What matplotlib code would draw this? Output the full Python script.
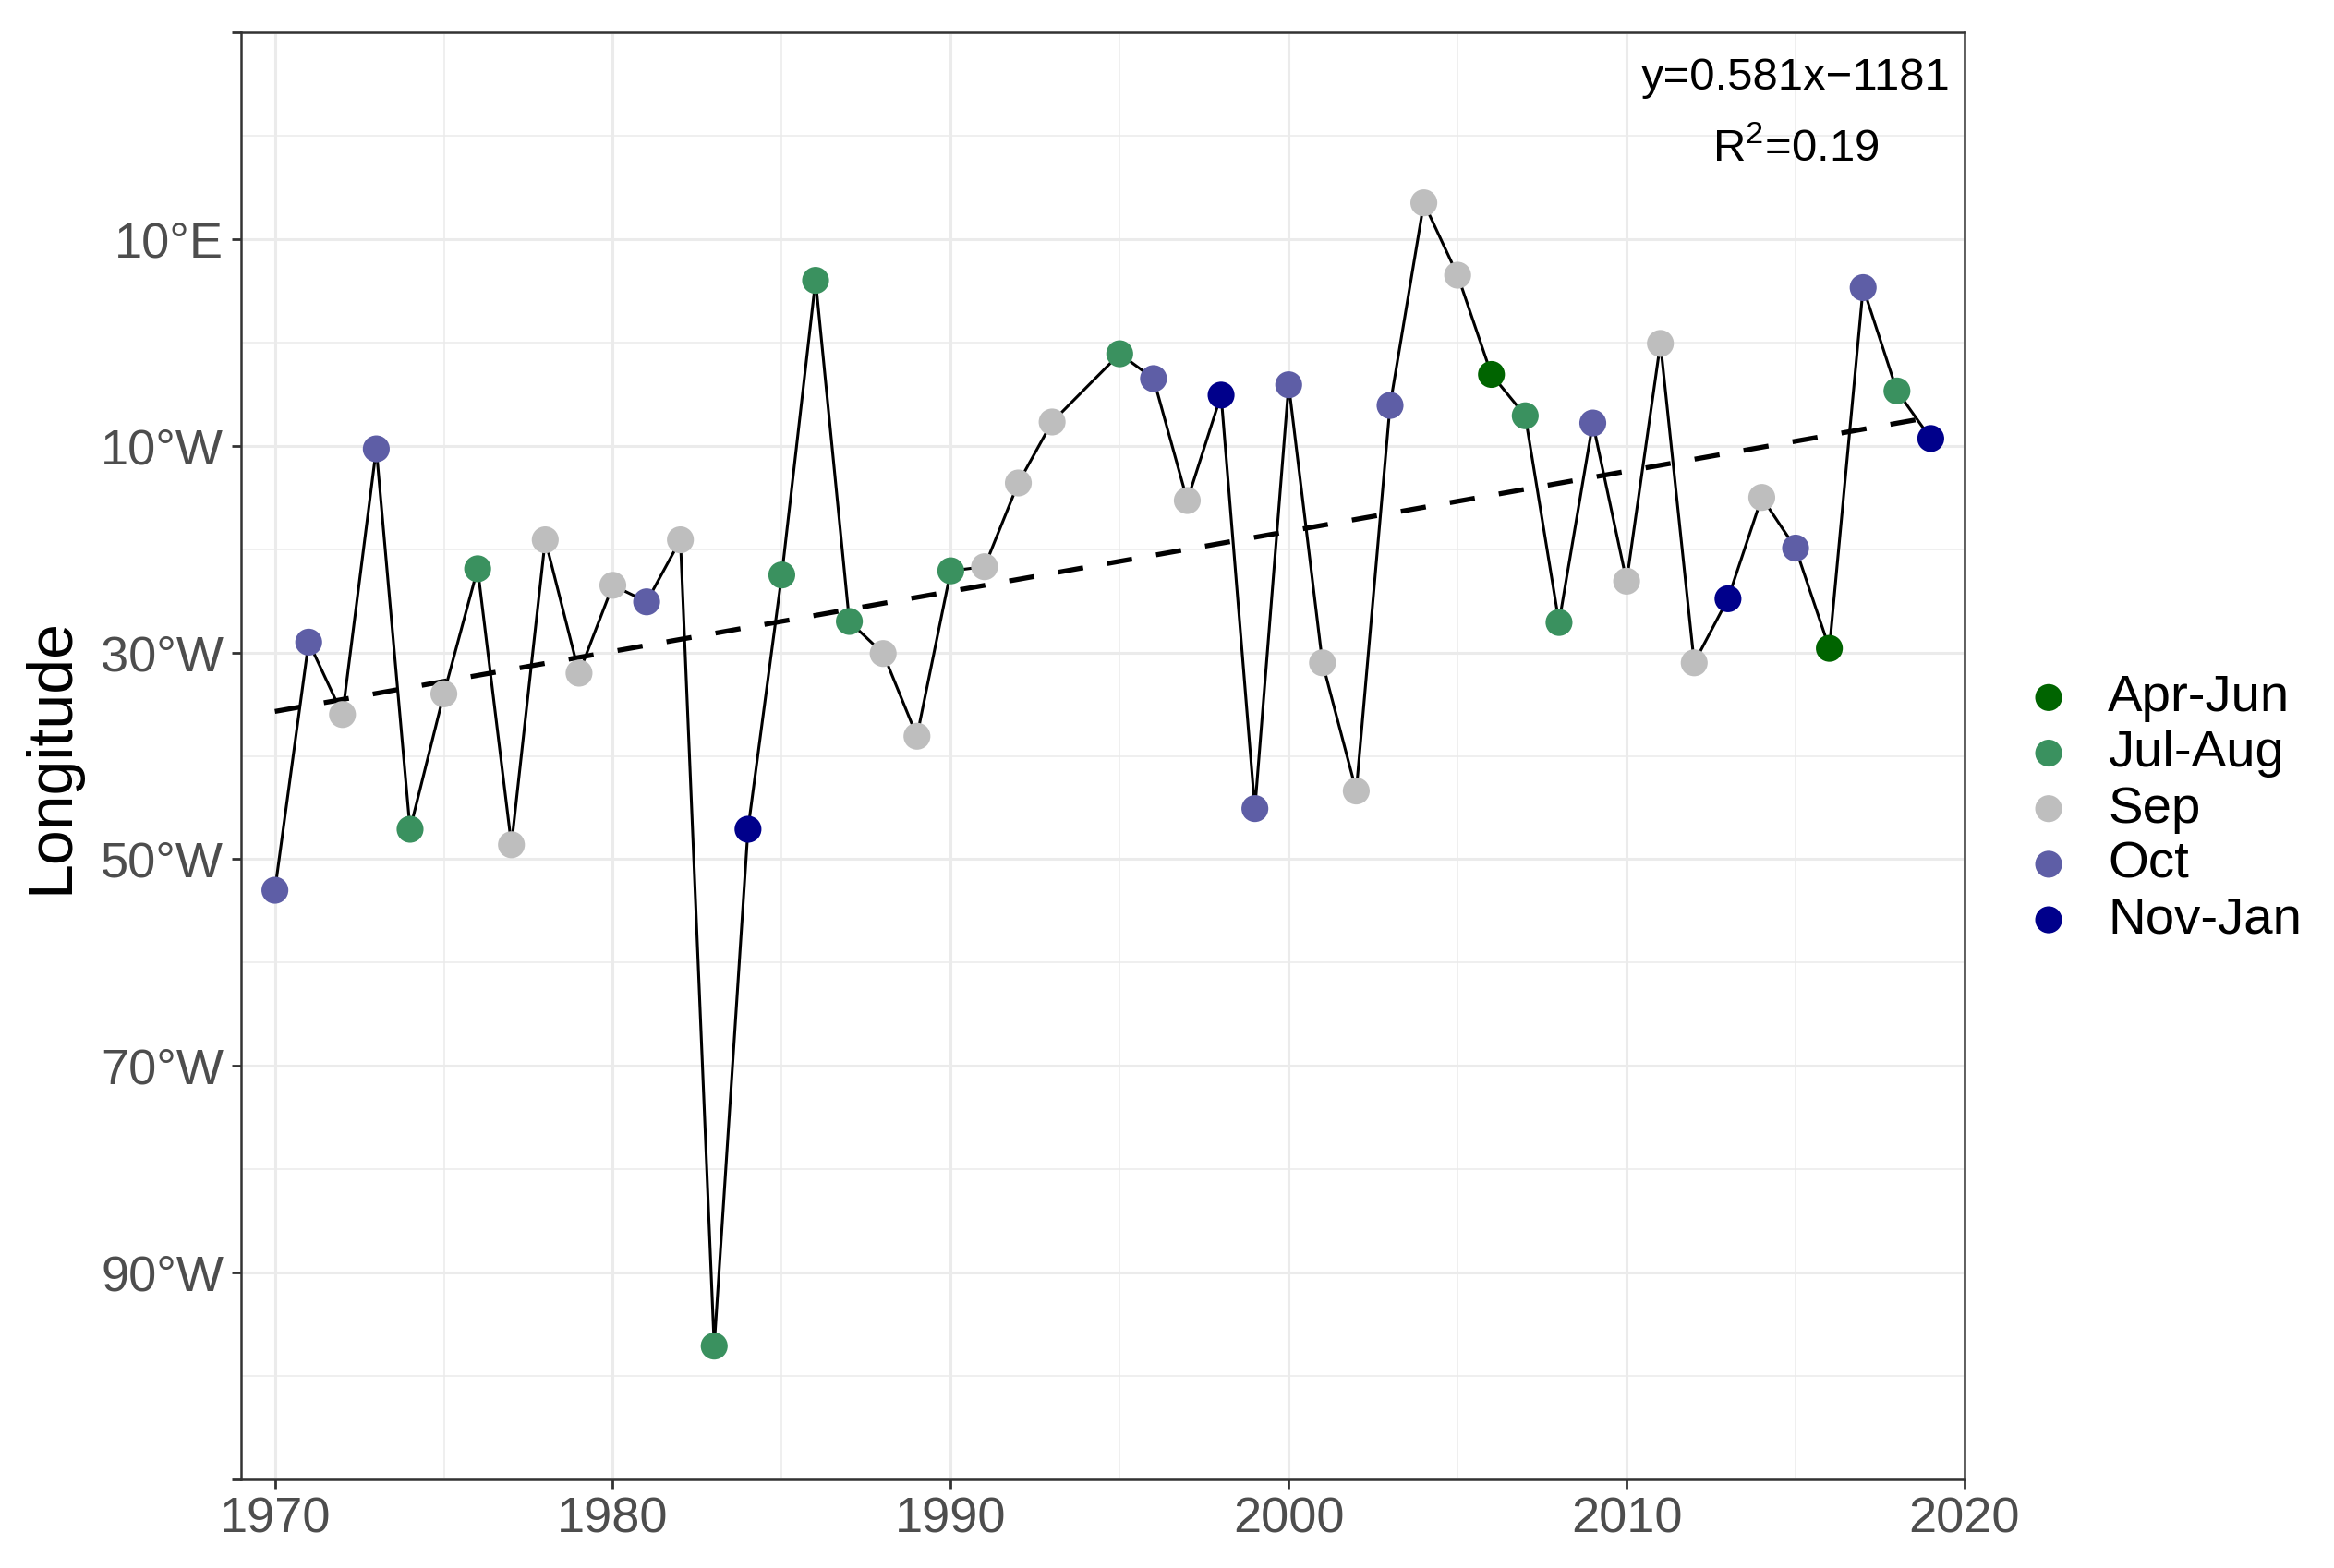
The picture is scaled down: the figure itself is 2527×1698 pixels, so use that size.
import matplotlib as mpl
mpl.use('Agg')
import matplotlib.pyplot as plt
import numpy as np

plt.rcParams['font.family'] = ['Liberation Sans', 'DejaVu Sans']
plt.rcParams['mathtext.fontset'] = 'custom'
plt.rcParams['mathtext.rm'] = 'Liberation Sans'

# data
years = [1970, 1971, 1972, 1973, 1974, 1975, 1976, 1977, 1978, 1979,
         1980, 1981, 1982, 1983, 1984, 1985, 1986, 1987, 1988, 1989,
         1990, 1991, 1992, 1993, 1995, 1996, 1997, 1998, 1999,
         2000, 2001, 2002, 2003, 2004, 2005, 2006, 2007, 2008, 2009,
         2010, 2011, 2012, 2013, 2014, 2015, 2016, 2017, 2018, 2019]
longitude = [-53.0, -29.0, -36.0, -10.3, -47.1, -34.0, -21.9, -48.6, -19.1, -32.0,
             -23.5, -25.1, -19.1, -97.1, -47.1, -22.5, 6.0, -27.0, -30.1, -38.1,
             -22.1, -21.7, -13.6, -7.7, -1.1, -3.5, -15.3, -5.1, -45.1,
             -4.1, -31.0, -43.4, -6.1, 13.5, 6.5, -3.1, -7.1, -27.1, -7.8,
             -23.1, -0.1, -31.0, -24.8, -15.0, -19.9, -29.6, 5.3, -4.7, -9.3]
season = ['Oct', 'Oct', 'Sep', 'Oct', 'Jul-Aug', 'Sep', 'Jul-Aug', 'Sep', 'Sep', 'Sep',
          'Sep', 'Oct', 'Sep', 'Jul-Aug', 'Nov-Jan', 'Jul-Aug', 'Jul-Aug', 'Jul-Aug', 'Sep', 'Sep',
          'Jul-Aug', 'Sep', 'Sep', 'Sep', 'Jul-Aug', 'Oct', 'Sep', 'Nov-Jan', 'Oct',
          'Oct', 'Sep', 'Sep', 'Oct', 'Sep', 'Sep', 'Apr-Jun', 'Jul-Aug', 'Jul-Aug', 'Oct',
          'Sep', 'Sep', 'Sep', 'Nov-Jan', 'Sep', 'Oct', 'Apr-Jun', 'Oct', 'Jul-Aug', 'Nov-Jan']

season_order = ['Apr-Jun', 'Jul-Aug', 'Sep', 'Oct', 'Nov-Jan']
season_colors = ['#006400', '#3A915F', '#BEBEBE', '#5E5EA6', '#00008B']

y_ticks = [-110, -90, -70, -50, -30, -10, 10, 30]
x_ticks = [1970, 1980, 1990, 2000, 2010, 2020]


def lon_label(v):
    if v in (-110, 30):
        return ''
    if v < 0:
        return f'{abs(v)}°W'
    return f'{v}°E'


fig = plt.figure(figsize=(12.635, 8.49), dpi=200)
ax = fig.add_axes([0.1033, 0.0565, 0.7384, 0.9229])

years = np.array(years)
longitude = np.array(longitude)

ax.plot(years, longitude, color='black', lw=1.1, zorder=3)

slope, intercept = np.polyfit(years, longitude, 1)
xfit = np.array([years.min(), years.max()])
ax.plot(xfit, slope * xfit + intercept, color='black', lw=1.9,
        linestyle=(0, (5.2, 5.0)), zorder=3)

for name, col in zip(season_order, season_colors):
    mask = np.array([s == name for s in season])
    ax.scatter(years[mask], longitude[mask], s=110, color=col,
               edgecolors='none', zorder=4, label=name)

ax.text(2015, 25.6, 'y=0.581x\u22121181', ha='center', va='center', fontsize=17.7)
ax.text(2015, 18.7, r'R$^{\mathrm{2}}$=0.19', ha='center', va='center', fontsize=17.7)

ax.set_xlim(1969, 2020)
ax.set_ylim(-110, 30)
ax.set_xticks(x_ticks)
ax.set_xticks([1975, 1985, 1995, 2005, 2015], minor=True)
ax.set_yticks(y_ticks)
ax.set_yticklabels([lon_label(v) for v in y_ticks])
ax.set_yticks([-100, -80, -60, -40, -20, 0, 20], minor=True)

ax.grid(which='major', color='#EBEBEB', lw=1.1, zorder=0)
ax.grid(which='minor', color='#EBEBEB', lw=0.55, zorder=0)
ax.set_axisbelow(True)

ax.tick_params(which='major', length=3.6, width=1.0, color='#333333',
               labelsize=19.5, labelcolor='#4D4D4D', pad=3.2)
ax.tick_params(which='minor', length=0)
for sp in ax.spines.values():
    sp.set_color('#333333')
    sp.set_linewidth(0.9)

ax.set_ylabel('Longitude', fontsize=24.5, labelpad=8)

leg = ax.legend(loc='center left', bbox_to_anchor=(1.0186, 0.463), frameon=False,
                fontsize=20.3, handletextpad=0.54, labelspacing=0.145,
                borderaxespad=0, handlelength=1.2, markerscale=1.0)

fig.savefig('out.png', dpi=200)
